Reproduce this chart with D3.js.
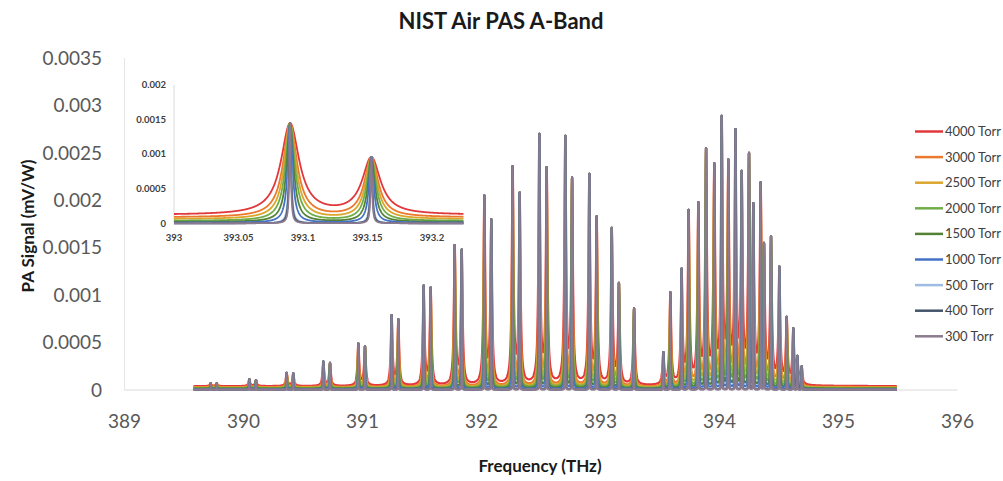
<!DOCTYPE html>
<html>
<head>
<meta charset="utf-8">
<script src="https://cdn.jsdelivr.net/npm/d3@7"></script>
<style>
  body { margin: 0; background: #fff; }
  text { font-family: Lato, "Open Sans", sans-serif; }
</style>
</head>
<body>
<div id="chart"></div>
<script>
const pressures = ["4000 Torr", "3000 Torr", "2500 Torr", "2000 Torr", "1500 Torr",
  "1000 Torr", "500 Torr", "400 Torr", "300 Torr"];
const colors = ["#E0383C", "#EB7A2E", "#DBA62C", "#70AD47", "#548235",
  "#4472C4", "#9EBCE3", "#44546A", "#8C7A8E"];

// Lorentz half widths (THz) for each pressure, estimated from the line shapes
const halfWidths = [0.0085, 0.0064, 0.0053, 0.0043, 0.0032, 0.0022, 0.0011, 0.0009, 0.0007];
// flat signal under the lines, main plot and inset
const mainOffsets = [0.00004, 0.00003, 0.000025, 0.00002, 0.000015, 0.00001, 0.000005, 0.000004, 0.000003];
const insetOffsets = [0.00012, 0.000085, 0.00006, 0.000035, 0.00002, 0.00001, 0, 0, 0];

// line centres (THz) and peak signal (mV/W)
const lineCentres = [
  389.724, 389.775, 390.049, 390.105, 390.363, 390.418, 390.671, 390.727,
  390.965, 391.021, 391.245, 391.301, 391.514, 391.573, 391.775, 391.834,
  392.024, 392.082, 392.262, 392.321, 392.486, 392.548, 392.704, 392.761,
  392.906, 392.968, 393.095, 393.155, 393.282,
  393.528, 393.587, 393.682, 393.741, 393.822, 393.887, 393.956, 394.019,
  394.074, 394.134, 394.187, 394.248, 394.284, 394.346, 394.374, 394.433,
  394.503, 394.565, 394.620, 394.654, 394.691
];
const lineHeights = [
  0.00007, 0.00007, 0.000113, 0.000105, 0.00018, 0.000175, 0.0003, 0.000285,
  0.00049, 0.00046, 0.00079, 0.000745, 0.0011, 0.00108, 0.00153, 0.00148,
  0.00205, 0.0018, 0.00236, 0.00208, 0.0027, 0.00235, 0.00268, 0.00224,
  0.00228, 0.00183, 0.00171, 0.00113, 0.00086,
  0.0004, 0.00103, 0.00128, 0.0019, 0.00198, 0.00255, 0.00239, 0.00289,
  0.00243, 0.00275, 0.00231, 0.0025, 0.00197, 0.00219, 0.00155, 0.00162,
  0.0013, 0.00077, 0.00065, 0.00036, 0.00025
];

const insetCentres = [393.09, 393.153];
const insetHeights = [0.00145, 0.00096];

const xTicks = [389, 390, 391, 392, 393, 394, 395, 396];
const yTicks = [0, 0.0005, 0.001, 0.0015, 0.002, 0.0025, 0.003, 0.0035];
const insetXTicks = [393, 393.05, 393.1, 393.15, 393.2];
const insetYTicks = [0, 0.0005, 0.001, 0.0015, 0.002];

const width = 1003, height = 481;

const svg = d3.select("#chart")
  .append("svg")
  .attr("width", width)
  .attr("height", height);

function lorentz(d, g) {
  return g * g / (d * d + g * g);
}

// amplitudes chosen so every curve tops out at the read peak height
function spectrum(centres, heights, g, offset) {
  let amps = heights.map(h => h - offset);
  for (let k = 0; k < 10; k++) {
    amps = centres.map((c, i) => {
      let s = 0;
      centres.forEach((c2, j) => { if (j !== i) s += amps[j] * lorentz(c - c2, g); });
      return Math.max(0, heights[i] - offset - s);
    });
  }
  return f => {
    let s = offset;
    for (let j = 0; j < centres.length; j++) s += amps[j] * lorentz(f - centres[j], g);
    return s;
  };
}

// ---- main plot
const x = d3.scaleLinear().domain([389, 396]).range([124.5, 957.5]);
const y = d3.scaleLinear().domain([0, 0.0035]).range([390, 58]);

svg.append("line")
  .attr("x1", x(389)).attr("x2", x(396))
  .attr("y1", y(0)).attr("y2", y(0))
  .attr("stroke", "#D9D9D9").attr("stroke-width", 1.2);
svg.append("line")
  .attr("x1", x(389)).attr("x2", x(389))
  .attr("y1", y(0)).attr("y2", y(0.0035))
  .attr("stroke", "#E6E6E6").attr("stroke-width", 1);

svg.selectAll(".ytick")
  .data(yTicks)
  .enter().append("text")
  .attr("class", "ytick")
  .attr("x", 102)
  .attr("y", d => y(d))
  .attr("dy", "0.35em")
  .attr("text-anchor", "end")
  .attr("font-size", 19)
  .attr("fill", "#595959")
  .text(d => String(d));

svg.selectAll(".xtick")
  .data(xTicks)
  .enter().append("text")
  .attr("class", "xtick")
  .attr("x", d => x(d))
  .attr("y", 421)
  .attr("dy", "0.35em")
  .attr("text-anchor", "middle")
  .attr("font-size", 19)
  .attr("fill", "#595959")
  .text(d => String(d));

const grid = d3.range(389.58, 395.49, 0.001).concat(lineCentres).sort(d3.ascending);

const mainLine = d3.line().x(d => x(d[0])).y(d => y(d[1]));

pressures.forEach((p, i) => {
  const fn = spectrum(lineCentres, lineHeights, halfWidths[i], mainOffsets[i]);
  svg.append("path")
    .datum(grid.map(f => [f, fn(f)]))
    .attr("d", mainLine)
    .attr("fill", "none")
    .attr("stroke", colors[i])
    .attr("stroke-width", 2.2)
    .attr("stroke-linejoin", "round");
});

// ---- inset
const ix = d3.scaleLinear().domain([393, 393.2]).range([174, 432]);
const iy = d3.scaleLinear().domain([0, 0.002]).range([223.3, 85]);

const inset = svg.append("g");
inset.append("rect")
  .attr("x", 126).attr("y", 72)
  .attr("width", 344).attr("height", 172)
  .attr("fill", "#fff");
inset.append("line")
  .attr("x1", ix(393)).attr("x2", ix(393))
  .attr("y1", iy(0)).attr("y2", iy(0.002))
  .attr("stroke", "#D9D9D9");

inset.selectAll(".iytick")
  .data(insetYTicks)
  .enter().append("text")
  .attr("x", 166)
  .attr("y", d => iy(d))
  .attr("dy", "0.35em")
  .attr("text-anchor", "end")
  .attr("font-size", 9.5)
  .attr("font-weight", "bold")
  .attr("fill", "#404040")
  .text(d => String(d));

inset.selectAll(".ixtick")
  .data(insetXTicks)
  .enter().append("text")
  .attr("x", d => ix(d))
  .attr("y", 238)
  .attr("dy", "0.35em")
  .attr("text-anchor", "middle")
  .attr("font-size", 9.5)
  .attr("font-weight", "bold")
  .attr("fill", "#404040")
  .text(d => String(d));

const igrid = d3.range(393, 393.2245, 0.0002).concat(insetCentres).sort(d3.ascending);
const insetLine = d3.line().x(d => ix(d[0])).y(d => iy(d[1]));

pressures.forEach((p, i) => {
  const fn = spectrum(insetCentres, insetHeights, halfWidths[i], insetOffsets[i]);
  inset.append("path")
    .datum(igrid.map(f => [f, fn(f)]))
    .attr("d", insetLine)
    .attr("fill", "none")
    .attr("stroke", colors[i])
    .attr("stroke-width", 1.8)
    .attr("stroke-linejoin", "round");
});

// ---- titles
svg.append("text")
  .attr("x", 501).attr("y", 29)
  .attr("text-anchor", "middle")
  .attr("font-size", 22)
  .attr("font-weight", "bold")
  .attr("fill", "#1a1a1a")
  .text("NIST Air PAS A-Band");

svg.append("text")
  .attr("transform", "translate(34,226) rotate(-90)")
  .attr("text-anchor", "middle")
  .attr("font-size", 17)
  .attr("font-weight", "bold")
  .attr("fill", "#1a1a1a")
  .text("PA Signal (mV/W)");

svg.append("text")
  .attr("x", 540).attr("y", 472)
  .attr("text-anchor", "middle")
  .attr("font-size", 17)
  .attr("font-weight", "bold")
  .attr("fill", "#1a1a1a")
  .text("Frequency (THz)");

// ---- legend
const legend = svg.selectAll(".legend")
  .data(pressures)
  .enter().append("g")
  .attr("class", "legend")
  .attr("transform", (d, i) => "translate(915," + (131.5 + i * 25.6) + ")");

legend.append("line")
  .attr("x1", 0).attr("x2", 28)
  .attr("stroke", (d, i) => colors[i])
  .attr("stroke-width", 2.5);

legend.append("text")
  .attr("x", 30)
  .attr("dy", "0.35em")
  .attr("font-size", 13)
  .attr("fill", "#404040")
  .text(d => d);
</script>
</body>
</html>
